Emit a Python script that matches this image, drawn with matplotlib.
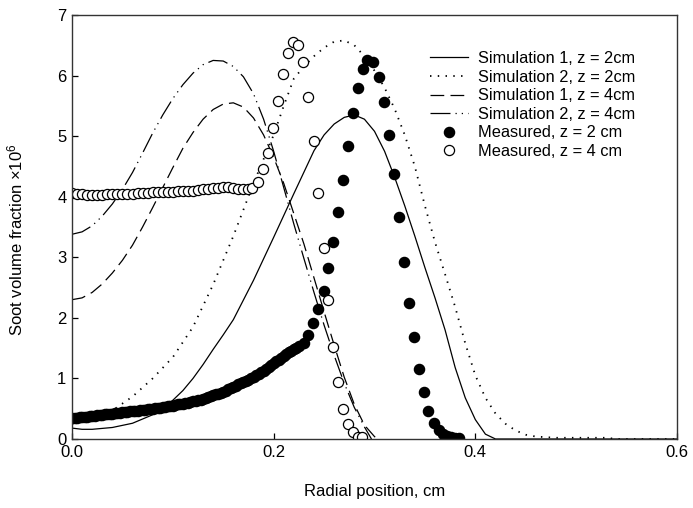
import matplotlib
matplotlib.use("Agg")
import matplotlib.pyplot as plt

plt.rcParams['font.family'] = ['Liberation Sans', 'DejaVu Sans']
plt.rcParams['mathtext.fontset'] = 'custom'
plt.rcParams['mathtext.rm'] = 'Liberation Sans'
plt.rcParams['mathtext.it'] = 'Liberation Sans:italic'

# Simulation 1, z = 2 cm (solid)
sim1_z2_x = [0.00, 0.01, 0.02, 0.04, 0.06, 0.08, 0.10, 0.11, 0.12, 0.13, 0.14, 0.15, 0.16,
             0.18, 0.20, 0.22, 0.24, 0.25, 0.26, 0.27, 0.28, 0.29, 0.30, 0.31, 0.32, 0.33,
             0.34, 0.35, 0.36, 0.37, 0.38, 0.39, 0.40, 0.41, 0.42, 0.60]
sim1_z2_y = [0.18, 0.16, 0.16, 0.19, 0.26, 0.40, 0.64, 0.80, 1.00, 1.23, 1.48, 1.72, 1.97,
             2.62, 3.33, 4.05, 4.76, 5.02, 5.20, 5.31, 5.35, 5.28, 5.08, 4.75, 4.32, 3.85,
             3.35, 2.83, 2.33, 1.80, 1.18, 0.68, 0.32, 0.08, 0.00, 0.00]

# Simulation 2, z = 2 cm (dotted)
sim2_z2_x = [0.00, 0.02, 0.04, 0.06, 0.08, 0.10, 0.12, 0.14, 0.16, 0.18, 0.20, 0.21, 0.22,
             0.23, 0.24, 0.25, 0.26, 0.27, 0.28, 0.29, 0.30, 0.31, 0.32, 0.33, 0.34, 0.35,
             0.36, 0.37, 0.38, 0.39, 0.40, 0.41, 0.42, 0.43, 0.44, 0.45, 0.46, 0.48, 0.53,
             0.54, 0.60]
sim2_z2_y = [0.25, 0.33, 0.47, 0.70, 1.00, 1.35, 1.85, 2.55, 3.35, 4.22, 5.02, 5.50, 5.95,
             6.15, 6.32, 6.46, 6.56, 6.58, 6.50, 6.32, 6.08, 5.80, 5.45, 5.02, 4.50, 3.85,
             3.25, 2.72, 2.18, 1.58, 1.05, 0.68, 0.42, 0.25, 0.14, 0.07, 0.04, 0.02, 0.02,
             0.00, 0.00]

# Simulation 1, z = 4 cm (dashed)
sim1_z4_x = [0.00, 0.01, 0.02, 0.03, 0.04, 0.05, 0.06, 0.07, 0.08, 0.09, 0.10, 0.11, 0.12,
             0.13, 0.14, 0.15, 0.16, 0.17, 0.18, 0.19, 0.20, 0.21, 0.22, 0.23, 0.24, 0.25,
             0.26, 0.27, 0.28, 0.29, 0.30, 0.303]
sim1_z4_y = [2.30, 2.33, 2.42, 2.56, 2.74, 2.95, 3.20, 3.50, 3.82, 4.15, 4.48, 4.80, 5.06,
             5.28, 5.44, 5.53, 5.55, 5.48, 5.30, 5.02, 4.65, 4.22, 3.72, 3.22, 2.66, 2.10,
             1.55, 1.02, 0.57, 0.23, 0.04, 0.00]

# Simulation 2, z = 4 cm (dash-dot)
sim2_z4_x = [0.00, 0.01, 0.02, 0.03, 0.04, 0.05, 0.06, 0.07, 0.08, 0.09, 0.10, 0.11, 0.12,
             0.13, 0.14, 0.15, 0.16, 0.17, 0.18, 0.19, 0.20, 0.21, 0.22, 0.23, 0.24, 0.25,
             0.26, 0.27, 0.28, 0.29, 0.297]
sim2_z4_y = [3.38, 3.42, 3.52, 3.68, 3.88, 4.12, 4.40, 4.72, 5.05, 5.35, 5.62, 5.85, 6.04,
             6.18, 6.25, 6.24, 6.15, 5.98, 5.70, 5.28, 4.75, 4.15, 3.55, 2.98, 2.42, 1.88,
             1.38, 0.92, 0.52, 0.20, 0.00]

# Measured, z = 2 cm (filled circles): dense band near the axis, then the peak
meas_z2_band_x = [0.0000, 0.0025, 0.0050, 0.0075, 0.0100, 0.0125, 0.0150, 0.0175, 0.0200,
                  0.0225, 0.0250, 0.0275, 0.0300, 0.0325, 0.0350, 0.0375, 0.0400, 0.0425,
                  0.0450, 0.0475, 0.0500, 0.0525, 0.0550, 0.0575, 0.0600, 0.0625, 0.0650,
                  0.0675, 0.0700, 0.0725, 0.0750, 0.0775, 0.0800, 0.0825, 0.0850, 0.0875,
                  0.0900, 0.0925, 0.0950, 0.0975, 0.1000, 0.1025, 0.1050, 0.1075, 0.1100,
                  0.1125, 0.1150, 0.1175, 0.1200, 0.1225, 0.1250, 0.1275, 0.1300, 0.1325,
                  0.1350, 0.1375, 0.1400, 0.1425, 0.1450, 0.1475, 0.1500, 0.1525, 0.1550,
                  0.1575, 0.1600, 0.1625, 0.1650, 0.1675, 0.1700, 0.1725, 0.1750, 0.1775,
                  0.1800, 0.1825, 0.1850, 0.1875, 0.1900, 0.1925, 0.1950, 0.1975, 0.2000,
                  0.2025, 0.2050, 0.2075, 0.2100, 0.2125, 0.2150, 0.2175, 0.2200, 0.2225,
                  0.2250]
meas_z2_band_y = [0.340, 0.345, 0.350, 0.355, 0.360, 0.365, 0.370, 0.375, 0.380,
                  0.385, 0.390, 0.395, 0.400, 0.405, 0.410, 0.415, 0.420, 0.425,
                  0.430, 0.435, 0.440, 0.445, 0.450, 0.455, 0.460, 0.465, 0.470,
                  0.475, 0.480, 0.485, 0.490, 0.495, 0.500, 0.505, 0.510, 0.520,
                  0.530, 0.535, 0.540, 0.545, 0.550, 0.560, 0.570, 0.575, 0.580,
                  0.590, 0.600, 0.610, 0.620, 0.630, 0.640, 0.650, 0.660, 0.675,
                  0.690, 0.705, 0.720, 0.735, 0.750, 0.765, 0.780, 0.800, 0.820,
                  0.840, 0.860, 0.880, 0.900, 0.920, 0.940, 0.960, 0.980, 1.005,
                  1.030, 1.055, 1.080, 1.105, 1.130, 1.160, 1.190, 1.220, 1.250,
                  1.280, 1.310, 1.340, 1.370, 1.400, 1.430, 1.455, 1.480, 1.505,
                  1.530]
meas_z2_x = [0.230, 0.234, 0.239, 0.244, 0.250, 0.254, 0.259, 0.264, 0.269,
             0.274, 0.279, 0.284, 0.289, 0.293, 0.299, 0.304, 0.309, 0.314, 0.319, 0.324,
             0.329, 0.334, 0.339, 0.344, 0.349, 0.353, 0.359, 0.364, 0.368, 0.372, 0.376,
             0.380, 0.384]
meas_z2_y = [1.58, 1.72, 1.91, 2.14, 2.44, 2.82, 3.25, 3.75, 4.27,
             4.84, 5.38, 5.79, 6.11, 6.25, 6.22, 5.97, 5.56, 5.02, 4.37, 3.66,
             2.93, 2.25, 1.68, 1.15, 0.77, 0.47, 0.27, 0.15, 0.09, 0.05, 0.03,
             0.02, 0.02]

# Measured, z = 4 cm (open circles)
meas_z4_x = [0.000, 0.005, 0.010, 0.015, 0.020, 0.025, 0.030, 0.035, 0.040, 0.045, 0.050,
             0.055, 0.060, 0.065, 0.070, 0.075, 0.080, 0.085, 0.090, 0.095, 0.100, 0.105,
             0.110, 0.115, 0.120, 0.125, 0.130, 0.135, 0.140, 0.145, 0.150, 0.155, 0.160,
             0.165, 0.170, 0.175, 0.179, 0.184, 0.189, 0.194, 0.199, 0.204, 0.209, 0.214,
             0.219, 0.224, 0.229, 0.234, 0.240, 0.244, 0.250, 0.254, 0.259, 0.264, 0.269,
             0.274, 0.279, 0.284, 0.288]
meas_z4_y = [4.06, 4.05, 4.04, 4.03, 4.03, 4.03, 4.03, 4.04, 4.04, 4.04, 4.05,
             4.05, 4.05, 4.06, 4.06, 4.06, 4.07, 4.07, 4.07, 4.08, 4.08, 4.09,
             4.09, 4.10, 4.10, 4.11, 4.12, 4.13, 4.14, 4.15, 4.16, 4.16, 4.15,
             4.13, 4.12, 4.13, 4.14, 4.24, 4.46, 4.72, 5.13, 5.58, 6.02, 6.37,
             6.55, 6.50, 6.22, 5.64, 4.92, 4.06, 3.15, 2.29, 1.52, 0.94, 0.50,
             0.25, 0.12, 0.04, 0.03]

fig = plt.figure(figsize=(6.93, 5.08), dpi=100)
ax = fig.add_axes([72 / 693, 1 - 439 / 508, 605 / 693, 424 / 508])

lw = 0.9
ax.plot(sim1_z2_x, sim1_z2_y, color="black", lw=lw, ls="-", label="Simulation 1, z = 2cm")
ax.plot(sim2_z2_x, sim2_z2_y, color="black", lw=1.3, ls=(0, (0.8, 3.5)),
        label="Simulation 2, z = 2cm")
ax.plot(sim1_z4_x, sim1_z4_y, color="black", lw=lw, ls=(0, (11, 5)),
        label="Simulation 1, z = 4cm")
ax.plot(sim2_z4_x, sim2_z4_y, color="black", lw=lw, ls=(0, (16, 4, 1, 4, 1, 4)),
        label="Simulation 2, z = 4cm")
ax.plot(meas_z2_band_x + meas_z2_x, meas_z2_band_y + meas_z2_y, "o", color="black",
        ms=7.3, mec="black", label="Measured, z = 2 cm")
ax.plot(meas_z4_x, meas_z4_y, "o", mfc="white", mec="black", ms=7.3, mew=0.9,
        label="Measured, z = 4 cm")

ax.set_xlim(0, 0.6)
ax.set_ylim(0, 7)
ax.set_xticks([0.0, 0.2, 0.4, 0.6])
ax.set_xticklabels(["0.0", "0.2", "0.4", "0.6"])
ax.set_yticks(range(8))
ax.tick_params(direction="in", length=4, width=0.9, labelsize=12, pad=4, colors="black")
for s in ax.spines.values():
    s.set_linewidth(1.0)
    s.set_color("#333333")

ax.set_xlabel("Radial position, cm", fontsize=12)
ax.set_ylabel(r"Soot volume fraction $\times 10^{6}$", fontsize=12)
ax.xaxis.set_label_coords(0.5, -0.105)
ax.yaxis.set_label_coords(-0.077, 0.47)

ax.legend(loc="upper left", bbox_to_anchor=(0.592, 0.915), frameon=False, fontsize=11.8,
          handlelength=2.3, handletextpad=0.6, labelspacing=0.22, borderpad=0,
          borderaxespad=0)

fig.savefig("out.png", dpi=100)
